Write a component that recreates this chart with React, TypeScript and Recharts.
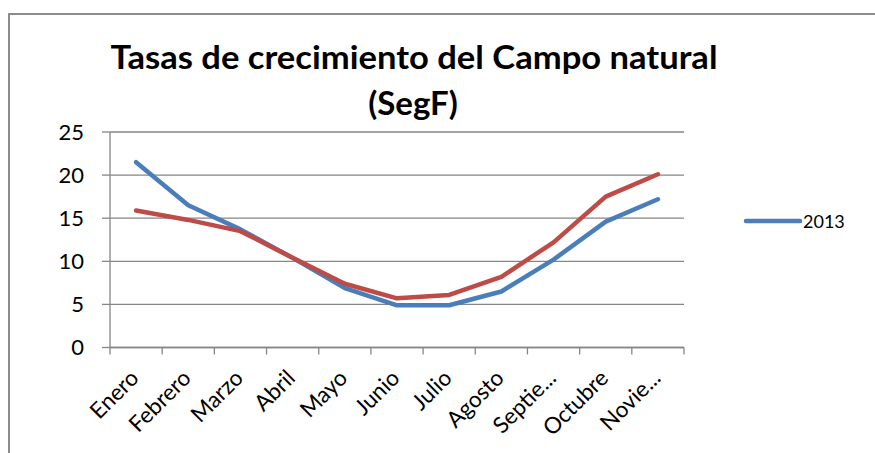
import React from 'react';
import { LineChart, Line, XAxis, YAxis, CartesianGrid, Legend } from 'recharts';

const months = ['Enero', 'Febrero', 'Marzo', 'Abril', 'Mayo', 'Junio', 'Julio', 'Agosto', 'Septie...', 'Octubre', 'Novie...'];
const serie2013 = [21.5, 16.5, 13.7, 10.4, 6.9, 4.9, 4.9, 6.5, 10.2, 14.6, 17.2];
const serieOtra = [15.9, 14.8, 13.5, 10.4, 7.4, 5.7, 6.1, 8.2, 12.2, 17.5, 20.1];
const yTicks = [0, 5, 10, 15, 20, 25];
const titleLines = ['Tasas de crecimiento del Campo natural', '(SegF)'];
const legendLabel = '2013';

const data = months.map((m, i) => ({ month: m, a: serie2013[i], b: serieOtra[i] }));

const BLUE = '#4A7EBB';
const RED = '#BE4B48';
const GRID = '#868686';
const FONT = 'Lato, "Noto Sans", sans-serif';

const XTick = (props: any) => {
  const { x, y, payload, index, visibleTicksCount } = props;
  const off = payload && typeof payload.offset === 'number' && payload.offset > 0 ? payload.offset : 26.1;
  const ax = x + 4;
  const ay = y + 32;
  const isLast = index === (visibleTicksCount ?? months.length) - 1;
  return (
    <g>
      <line x1={x - off} x2={x - off} y1={y} y2={y + 7} stroke={GRID} strokeWidth={1.3} />
      {isLast && <line x1={x + off} x2={x + off} y1={y} y2={y + 7} stroke={GRID} strokeWidth={1.3} />}
      <text
        x={ax}
        y={ay}
        textAnchor="end"
        transform={`rotate(-45, ${ax}, ${ay})`}
        fontSize={22.5}
        fontFamily={FONT}
        fill="#000"
      >
        {payload.value}
      </text>
    </g>
  );
};

const LegendContent = () => (
  <svg width={120} height={24}>
    <line x1={3} x2={57} y1={12} y2={12} stroke={BLUE} strokeWidth={4.5} strokeLinecap="round" />
    <text x={60} y={18.5} fontSize={18} fontFamily={FONT} fill="#000">{legendLabel}</text>
  </svg>
);

export default function App() {
  return (
    <div style={{ position: 'absolute', left: 0, top: 0, width: 875, height: 453, overflow: 'hidden', background: '#fff' }}>
      <div
        style={{
          position: 'absolute',
          left: 8,
          top: 13,
          width: 1000,
          height: 1000,
          borderTop: '2px solid #8c8c8c',
          borderLeft: '2px solid #8c8c8c',
        }}
      />
      <svg width={875} height={453} style={{ position: 'absolute', left: 0, top: 0 }}>
        <text x={110.5} y={69} fontSize={32} fontWeight={700} fontFamily={FONT} fill="#000" textLength={607} lengthAdjust="spacingAndGlyphs">
          {titleLines[0]}
        </text>
        <text x={413} y={115} fontSize={33} fontWeight={700} fontFamily={FONT} fill="#000" textAnchor="middle">
          {titleLines[1]}
        </text>
      </svg>
      <div style={{ position: 'absolute', left: 0, top: 0 }}>
        <LineChart width={875} height={453} data={data} margin={{ top: 132, right: 191, left: 0, bottom: 0 }}>
          <CartesianGrid vertical={false} stroke={GRID} strokeWidth={1.3} />
          <XAxis
            dataKey="month"
            scale="band"
            interval={0}
            height={105.5}
            tickSize={0}
            tickMargin={0}
            tickLine={false}
            axisLine={{ stroke: GRID, strokeWidth: 1.3 }}
            tick={<XTick />}
          />
          <YAxis
            domain={[0, 25]}
            ticks={yTicks}
            width={110}
            tickSize={8}
            tickMargin={18}
            tickLine={{ stroke: GRID, strokeWidth: 1.3 }}
            axisLine={{ stroke: GRID, strokeWidth: 1.3 }}
            tick={{ fontSize: 22, fontFamily: FONT, fill: '#000' }}
            interval={0}
          />
          <Legend
            layout="horizontal"
            verticalAlign="middle"
            align="center"
            content={<LegendContent />}
            wrapperStyle={{ position: 'absolute', left: 743, top: 208.5, width: 120 }}
          />
          <Line type="linear" dataKey="a" name={legendLabel} stroke={BLUE} strokeWidth={4.5} dot={false} strokeLinecap="round" strokeLinejoin="round" isAnimationActive={false} />
          <Line type="linear" dataKey="b" name="" stroke={RED} strokeWidth={4.5} dot={false} strokeLinecap="round" strokeLinejoin="round" isAnimationActive={false} legendType="none" />
        </LineChart>
      </div>
    </div>
  );
}
